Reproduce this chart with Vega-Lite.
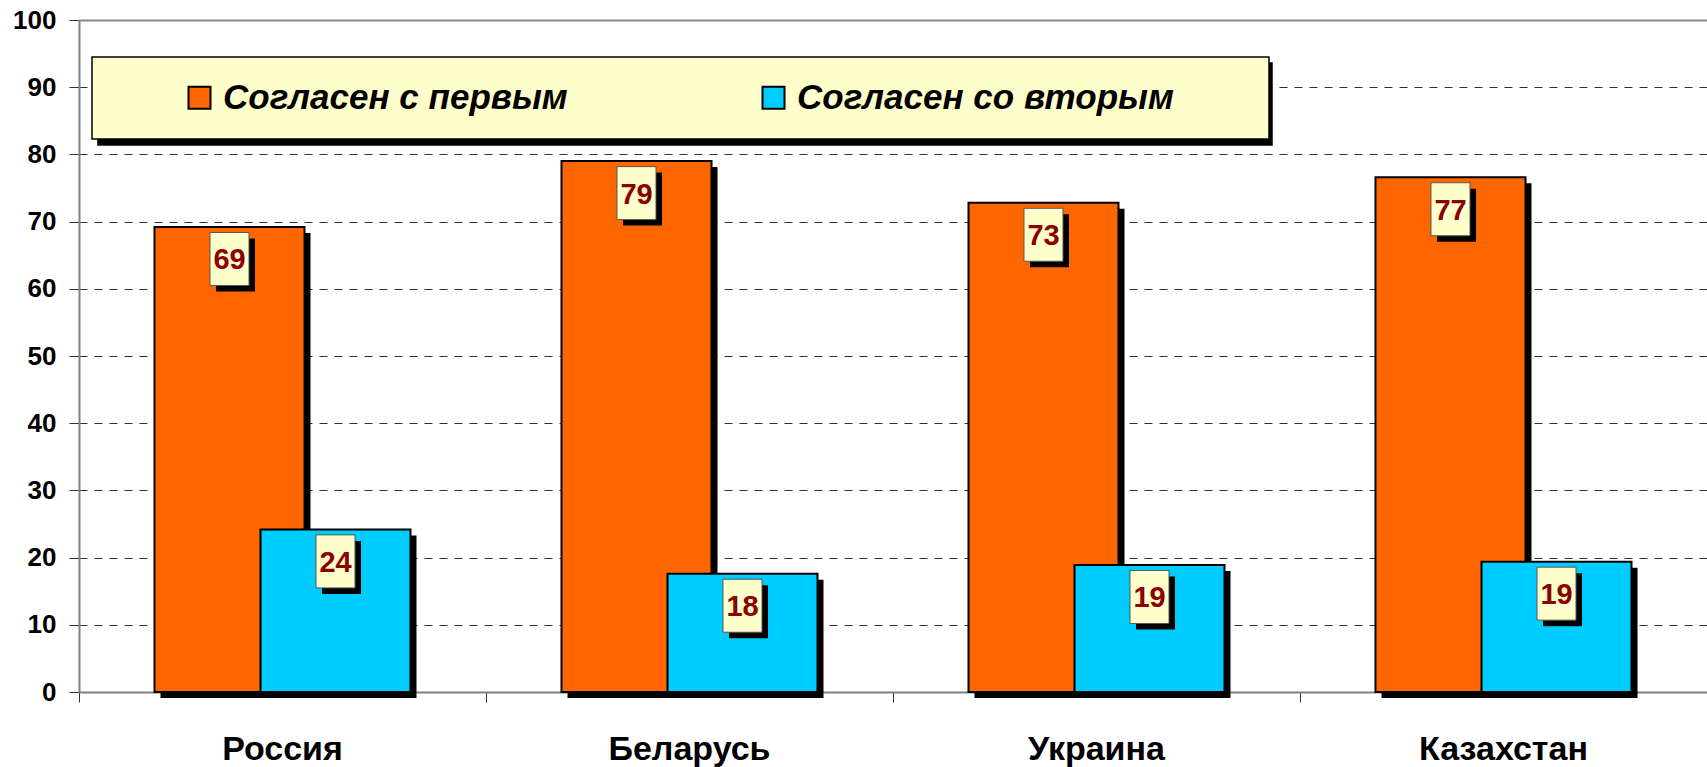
{
  "$schema": "https://vega.github.io/schema/vega-lite/v6.json",
  "autosize": "none",
  "width": 1628,
  "height": 672,
  "padding": {"left": 79, "top": 20, "right": 0, "bottom": 75},
  "background": "white",
  "datasets": {
    "d": [
      {"country": "Россия", "series": "Согласен с первым", "value": 69.2},
      {"country": "Россия", "series": "Согласен со вторым", "value": 24.2},
      {"country": "Беларусь", "series": "Согласен с первым", "value": 79.0},
      {"country": "Беларусь", "series": "Согласен со вторым", "value": 17.6},
      {"country": "Украина", "series": "Согласен с первым", "value": 72.8},
      {"country": "Украина", "series": "Согласен со вторым", "value": 18.9},
      {"country": "Казахстан", "series": "Согласен с первым", "value": 76.6},
      {"country": "Казахстан", "series": "Согласен со вторым", "value": 19.4}
    ]
  },
  "data": {"name": "d"},
  "encoding": {
    "x": {
      "field": "country", "type": "nominal", "sort": null,
      "scale": {"paddingInner": 0, "paddingOuter": 0},
      "axis": {
        "title": null, "labelAngle": 0, "bandPosition": 0,
        "domainColor": "#808080", "domainWidth": 2,
        "tickColor": "#333333", "tickSize": 10, "tickWidth": 1,
        "labelFont": "Liberation Sans", "labelFontSize": 34, "labelFontWeight": "bold",
        "labelColor": "black", "labelPadding": 30, "grid": false
      }
    },
    "y": {
      "field": "value", "type": "quantitative",
      "scale": {"domain": [0, 100], "nice": false},
      "axis": {
        "title": null, "values": [0,10,20,30,40,50,60,70,80,90,100],
        "domainColor": "#808080", "domainWidth": 2,
        "tickColor": "#333333", "tickSize": 10, "tickWidth": 1,
        "labelFont": "Liberation Sans", "labelFontSize": 26, "labelFontWeight": "bold",
        "labelColor": "black", "labelPadding": 13,
        "grid": true,
        "gridColor": {"condition": {"test": "datum.value === 100", "value": "#888888"}, "value": "#333333"},
        "gridDash": {"condition": {"test": "datum.value === 100", "value": []}, "value": [8, 7]},
        "gridWidth": {"condition": {"test": "datum.value === 100", "value": 2}, "value": 1}
      }
    }
  },
  "layer": [
    {
      "transform": [{"filter": "datum.series === 'Согласен с первым'"}],
      "mark": {"type": "bar", "color": "black", "width": 150, "xOffset": -47, "yOffset": 6},
      "encoding": {
        "opacity": {
          "field": "series", "type": "ordinal",
          "scale": {"range": [1, 1]},
          "legend": {"orient": "none", "legendX": 19, "legendY": 43, "direction": "horizontal",
            "fillColor": "black", "strokeColor": "black", "zindex": 1,
            "labelExpr": "''", "symbolOffset": 0, "symbolSize": 1089, "symbolStrokeWidth": 0,
            "symbolFillColor": "black", "columnPadding": 1046, "padding": 23}
        }
      }
    },
    {
      "transform": [{"filter": "datum.series === 'Согласен с первым'"}],
      "mark": {"type": "bar", "width": 150, "xOffset": -53, "stroke": "black", "strokeWidth": 2},
      "encoding": {
        "color": {
          "field": "series", "type": "nominal",
          "scale": {"domain": ["Согласен с первым", "Согласен со вторым"], "range": ["#FF6600", "#00CCFF"]},
          "legend": {"orient": "none", "legendX": 13, "legendY": 37, "direction": "horizontal",
            "fillColor": "#FFFFCC", "strokeColor": "black", "zindex": 2,
            "labelExpr": "datum.value == 'Согласен со вторым' ? datum.label + '\u2800  \u2800' : datum.label"}
        }
      }
    },
    {
      "transform": [{"filter": "datum.series === 'Согласен с первым'"}],
      "mark": {"type": "point", "shape": "M-0.736,-1L0.736,-1L0.736,1L-0.736,1Z", "size": 2809, "filled": true, "fill": "black", "opacity": 1, "xOffset": -47, "yOffset": 38}
    },
    {
      "transform": [{"filter": "datum.series === 'Согласен с первым'"}],
      "mark": {"type": "point", "shape": "M-0.736,-1L0.736,-1L0.736,1L-0.736,1Z", "size": 2809, "filled": true, "fill": "#FFFFCC", "stroke": "#555555", "strokeWidth": 1, "opacity": 1, "xOffset": -53, "yOffset": 32}
    },
    {
      "transform": [{"filter": "datum.series === 'Согласен с первым'"}],
      "mark": {"type": "text", "font": "Liberation Sans", "fontSize": 29, "fontWeight": "bold", "color": "#8B0000", "baseline": "middle", "align": "center", "xOffset": -53, "yOffset": 33.5},
      "encoding": {"text": {"field": "value", "type": "quantitative", "format": ".0f"}}
    },
    {
      "transform": [{"filter": "datum.series === 'Согласен со вторым'"}],
      "mark": {"type": "bar", "color": "black", "width": 150, "xOffset": 59, "yOffset": 6},
      "encoding": {
        "opacity": {"field": "series", "type": "ordinal", "scale": {"range": [1, 1]}}
      }
    },
    {
      "transform": [{"filter": "datum.series === 'Согласен со вторым'"}],
      "mark": {"type": "bar", "width": 150, "xOffset": 53, "stroke": "black", "strokeWidth": 2},
      "encoding": {
        "color": {"field": "series", "type": "nominal"}
      }
    },
    {
      "transform": [{"filter": "datum.series === 'Согласен со вторым'"}],
      "mark": {"type": "point", "shape": "M-0.736,-1L0.736,-1L0.736,1L-0.736,1Z", "size": 2809, "filled": true, "fill": "black", "opacity": 1, "xOffset": 59, "yOffset": 38}
    },
    {
      "transform": [{"filter": "datum.series === 'Согласен со вторым'"}],
      "mark": {"type": "point", "shape": "M-0.736,-1L0.736,-1L0.736,1L-0.736,1Z", "size": 2809, "filled": true, "fill": "#FFFFCC", "stroke": "#555555", "strokeWidth": 1, "opacity": 1, "xOffset": 53, "yOffset": 32}
    },
    {
      "transform": [{"filter": "datum.series === 'Согласен со вторым'"}],
      "mark": {"type": "text", "font": "Liberation Sans", "fontSize": 29, "fontWeight": "bold", "color": "#8B0000", "baseline": "middle", "align": "center", "xOffset": 53, "yOffset": 33.5},
      "encoding": {"text": {"field": "value", "type": "quantitative", "format": ".0f"}}
    }
  ],
  "config": {
    "view": {"stroke": null},
    "legend": {
      "title": null,
      "labelFont": "Liberation Sans", "labelFontSize": 35, "labelFontStyle": "italic", "labelFontWeight": "bold",
      "labelColor": "black", "labelLimit": 1000, "labelOffset": 6,
      "symbolType": "square", "symbolSize": 484, "symbolStrokeWidth": 2, "symbolStrokeColor": "black",
      "symbolOpacity": 1,
      "padding": 23, "symbolOffset": 67, "columnPadding": 121, "strokeWidth": 1.5
    }
  }
}
